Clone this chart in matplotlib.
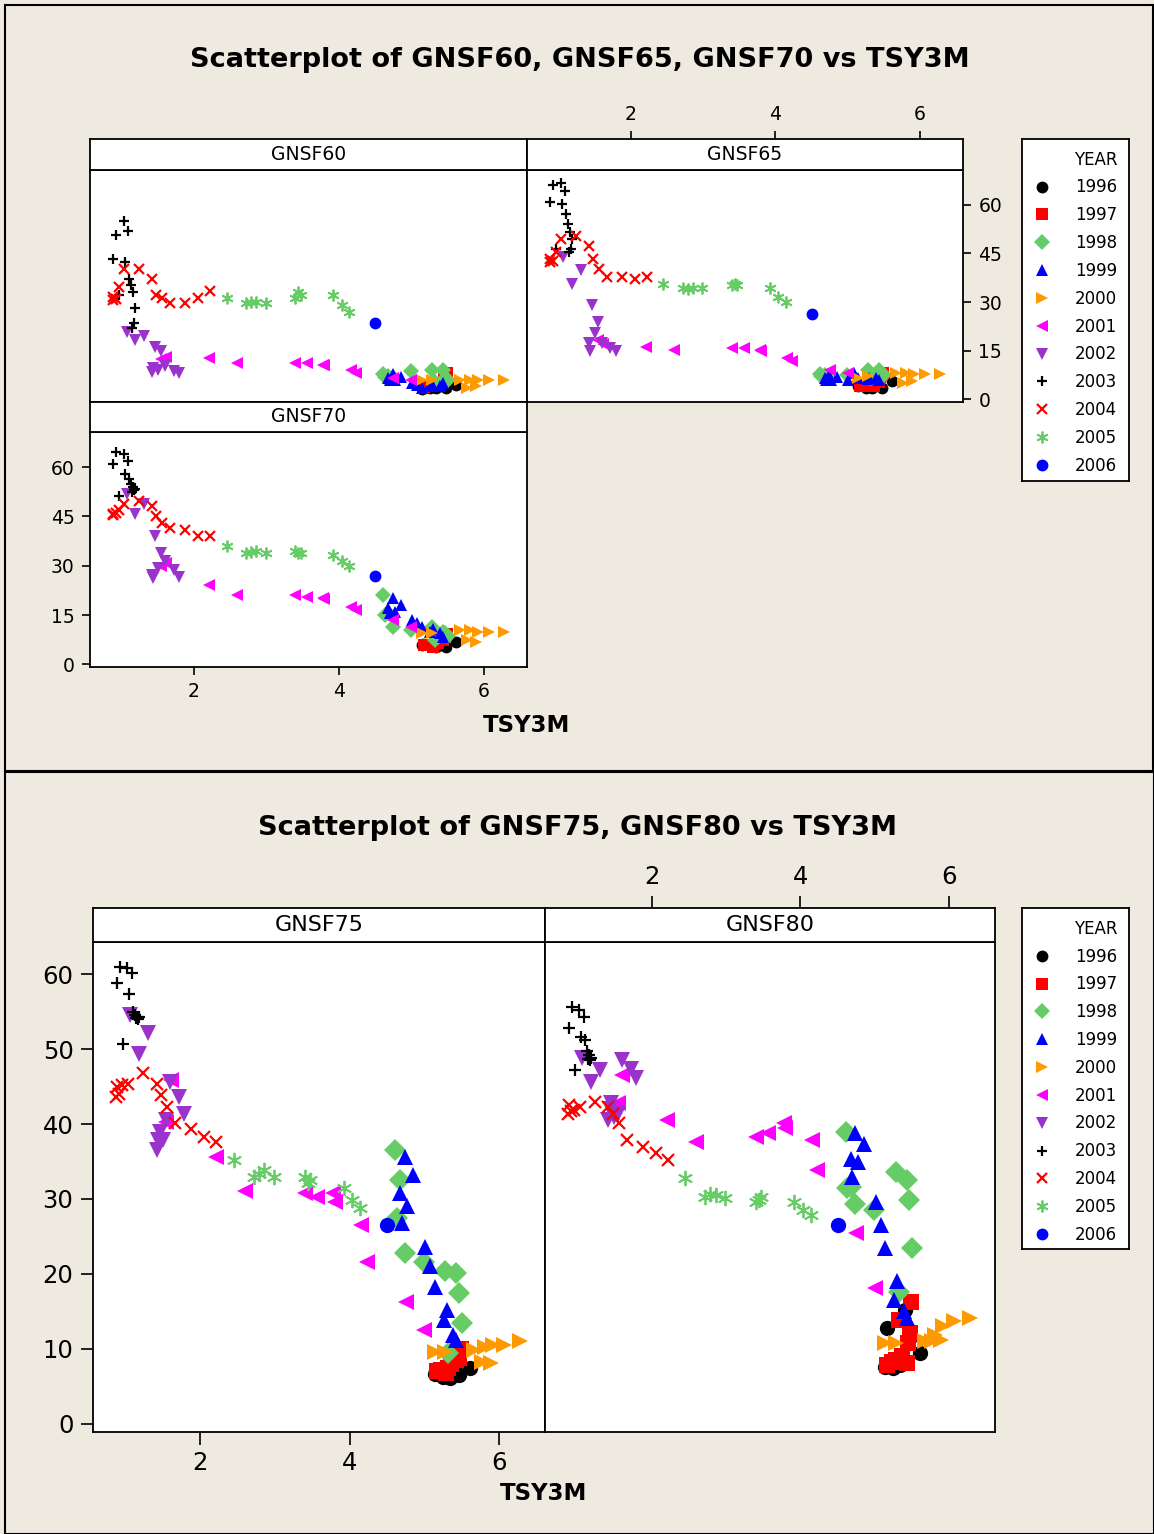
import matplotlib
matplotlib.use("Agg")
import matplotlib.pyplot as plt
from matplotlib.patches import Rectangle

# ---- data: TSY3M (x) and the five GNSF series, per YEAR group ----
years = [1996, 1997, 1998, 1999, 2000, 2001, 2002, 2003, 2004, 2005, 2006]

TSY3M = {
    1996: [5.14, 5.16, 5.25, 5.34, 5.41, 5.47, 5.61],
    1997: [5.17, 5.23, 5.29, 5.32, 5.36, 5.43, 5.45, 5.47, 5.49],
    1998: [4.61, 4.68, 4.63, 4.74, 4.99, 5.28, 5.43, 5.46, 5.50, 5.32],
    1999: [4.74, 4.85, 4.68, 4.77, 4.70, 5.01, 5.08, 5.14, 5.30, 5.26, 5.39, 5.43],
    2000: [5.14, 5.28, 5.67, 5.81, 5.92, 6.07, 6.28, 5.77, 5.89],
    2001: [5.00, 4.75, 4.23, 4.16, 3.80, 3.78, 3.56, 3.40, 2.60, 2.21, 1.55, 1.61],
    2002: [1.07, 1.19, 1.31, 1.46, 1.55, 1.60, 1.72, 1.79, 1.50, 1.42, 1.44],
    2003: [0.93, 1.03, 1.09, 0.89, 1.05, 1.11, 1.13, 1.16, 1.19, 1.17, 1.15, 0.97],
    2004: [0.88, 0.89, 0.92, 0.96, 1.04, 1.24, 1.42, 1.48, 1.56, 1.67, 1.88, 2.06, 2.22],
    2005: [2.45, 2.72, 2.79, 2.86, 2.99, 3.40, 3.44, 3.47, 3.92, 4.04, 4.14],
    2006: [4.50],
}

GNSF60 = {
    1996: [3.2, 3.5, 3.4, 3.4, 4.0, 3.6, 4.5],
    1997: [3.8, 4.0, 4.2, 4.5, 4.3, 5.0, 6.5, 7.0, 8.0],
    1998: [7.7, 7.2, 7.0, 6.8, 8.7, 9.2, 9.2, 6.6, 6.0, 5.5],
    1999: [7.7, 7.0, 6.5, 6.1, 6.0, 5.0, 4.5, 3.6, 4.1, 4.3, 4.1, 5.1],
    2000: [6.1, 6.1, 6.1, 6.1, 6.1, 6.1, 6.1, 3.6, 4.1],
    2001: [6.1, 6.6, 8.2, 9.2, 10.5, 10.7, 11.2, 11.2, 11.2, 12.8, 12.5, 13.0],
    2002: [20.9, 18.4, 19.4, 16.3, 14.8, 10.2, 8.7, 8.2, 9.2, 8.3, 9.7],
    2003: [50.8, 55.1, 52.0, 43.4, 42.3, 37.2, 35.2, 33.2, 28.1, 23.5, 21.9, 32.1],
    2004: [30.5, 31.5, 31.0, 34.7, 40.3, 40.3, 37.2, 32.1, 31.1, 29.8, 29.8, 31.1, 33.5],
    2005: [31.1, 29.6, 30.1, 30.1, 29.6, 31.1, 33.2, 32.1, 32.1, 29.1, 27.0],
    2006: [23.4],
}

GNSF65 = {
    1996: [4.1, 4.3, 3.6, 3.6, 4.5, 3.6, 5.6],
    1997: [4.0, 4.2, 4.1, 4.8, 4.1, 5.5, 7.0, 7.5, 8.2],
    1998: [7.7, 7.5, 7.2, 7.0, 7.5, 9.2, 9.2, 8.0, 7.5, 6.5],
    1999: [7.5, 6.8, 6.5, 6.1, 6.0, 6.0, 8.2, 6.5, 6.6, 6.3, 6.6, 6.1],
    2000: [6.6, 7.1, 8.2, 8.2, 7.7, 7.7, 7.7, 5.1, 5.6],
    2001: [8.2, 9.2, 11.7, 12.8, 15.0, 15.3, 15.8, 15.8, 15.3, 16.3, 18.4, 17.0],
    2002: [43.9, 35.7, 39.8, 29.1, 24.0, 17.4, 15.8, 14.8, 20.4, 17.4, 14.8],
    2003: [66.0, 66.8, 64.3, 60.7, 60.2, 57.1, 54.1, 51.5, 49.5, 46.4, 45.4, 46.4],
    2004: [42.3, 43.4, 42.8, 45.4, 49.5, 50.5, 47.4, 43.4, 40.3, 37.7, 37.7, 37.2, 37.7],
    2005: [35.7, 34.2, 34.0, 34.2, 34.2, 35.2, 35.7, 35.2, 34.2, 31.6, 30.1],
    2006: [26.3],
}

GNSF70 = {
    1996: [5.8, 6.2, 5.5, 5.3, 6.0, 5.4, 6.8],
    1997: [5.8, 6.0, 5.3, 6.3, 6.5, 7.5, 8.9, 8.5, 9.2],
    1998: [21.1, 15.5, 15.0, 11.4, 10.4, 11.4, 9.9, 9.5, 8.5, 7.3],
    1999: [20.1, 18.1, 17.0, 16.0, 15.5, 13.5, 12.5, 11.5, 10.9, 10.0, 9.4, 8.4],
    2000: [9.4, 9.4, 10.4, 10.4, 9.9, 9.9, 9.9, 7.3, 6.8],
    2001: [11.4, 13.5, 16.5, 17.5, 19.8, 20.1, 20.6, 21.1, 21.1, 24.2, 30.0, 30.8],
    2002: [51.7, 45.6, 48.7, 39.0, 33.9, 31.3, 28.8, 26.7, 29.3, 27.2, 26.2],
    2003: [64.5, 64.0, 61.9, 60.9, 58.0, 56.3, 54.8, 54.0, 53.3, 53.0, 52.5, 51.2],
    2004: [45.3, 45.6, 46.1, 47.0, 48.7, 49.7, 48.1, 45.1, 43.1, 41.5, 41.0, 39.0, 39.0],
    2005: [35.9, 33.9, 34.2, 34.4, 33.9, 34.4, 34.0, 33.9, 33.4, 31.3, 29.8],
    2006: [27.0],
}

GNSF75 = {
    1996: [6.6, 7.2, 6.3, 6.1, 7.0, 6.5, 7.5],
    1997: [7.0, 7.2, 6.8, 7.5, 8.0, 8.5, 9.5, 8.8, 10.0],
    1998: [36.5, 32.5, 27.4, 22.8, 21.6, 20.4, 20.1, 17.4, 13.4, 9.4],
    1999: [35.6, 33.2, 30.8, 29.0, 26.8, 23.6, 21.0, 18.3, 15.2, 13.9, 11.9, 11.2],
    2000: [9.6, 9.6, 9.9, 10.3, 10.5, 10.5, 11.0, 8.3, 8.1],
    2001: [12.5, 16.3, 21.6, 26.5, 29.6, 30.8, 30.3, 30.8, 31.0, 35.6, 40.3, 45.9],
    2002: [54.5, 49.4, 52.1, 39.0, 40.5, 45.6, 43.6, 41.4, 37.9, 36.5, 37.9],
    2003: [61.0, 60.8, 60.1, 58.8, 57.4, 55.0, 54.5, 54.3, 54.3, 54.0, 54.2, 50.7],
    2004: [43.6, 45.0, 44.0, 45.2, 45.4, 46.8, 45.4, 43.9, 42.3, 40.1, 39.4, 38.3, 37.6],
    2005: [35.2, 33.0, 33.4, 33.9, 33.0, 33.0, 32.1, 32.5, 31.4, 29.9, 28.8],
    2006: [26.5],
}

GNSF80 = {
    1996: [7.6, 12.8, 7.4, 7.8, 15.2, 11.6, 9.4],
    1997: [7.9, 8.2, 8.5, 13.9, 9.0, 8.1, 10.8, 12.1, 16.3],
    1998: [39.0, 31.6, 31.5, 29.3, 28.5, 33.6, 32.5, 29.9, 23.5, 17.6],
    1999: [38.8, 37.4, 35.4, 35.0, 33.0, 29.6, 26.5, 23.4, 19.0, 16.5, 15.0, 14.1],
    2000: [10.8, 10.8, 11.0, 11.9, 13.0, 13.7, 14.1, 11.0, 11.2],
    2001: [18.1, 25.4, 33.9, 37.9, 39.5, 40.1, 38.8, 38.3, 37.6, 40.5, 42.8, 46.5],
    2002: [48.8, 45.6, 47.2, 42.8, 41.4, 48.5, 47.4, 46.1, 41.0, 40.5, 42.0],
    2003: [55.6, 55.2, 54.3, 52.8, 51.6, 51.2, 49.8, 49.2, 48.8, 48.5, 48.7, 47.2],
    2004: [41.4, 42.5, 41.8, 41.9, 42.3, 43.0, 42.3, 41.4, 40.1, 37.9, 37.0, 36.1, 35.2],
    2005: [32.8, 30.3, 30.6, 30.5, 30.1, 29.6, 29.9, 30.2, 29.6, 28.5, 27.9],
    2006: [26.5],
}

# Minitab default group symbols
STYLE = {
    1996: dict(marker="o", color="#000000"),
    1997: dict(marker="s", color="#FF0000"),
    1998: dict(marker="D", color="#66CC66"),
    1999: dict(marker="^", color="#0000FF"),
    2000: dict(marker=">", color="#FF9900"),
    2001: dict(marker="<", color="#FF00FF"),
    2002: dict(marker="v", color="#9933CC"),
    2003: dict(marker="+", color="#000000"),
    2004: dict(marker="x", color="#FF0000"),
    2005: dict(marker=(6, 2, 0), color="#66CC66"),
    2006: dict(marker="o", color="#0000FF"),
}
LINE_MARKERS = {2003, 2004, 2005}

BG = "#EEEAE0"
W, H = 1154, 1534


def box(x0, y0, x1, y1):
    return [x0 / W, 1 - y1 / H, (x1 - x0) / W, (y1 - y0) / H]


def scatter(ax, series, ms):
    lines = []
    for yr in years:
        st = STYLE[yr]
        kw = dict(ls="none", marker=st["marker"], color=st["color"], label=str(yr))
        if yr in LINE_MARKERS:
            kw.update(ms=ms * (1.0 if yr == 2005 else 0.85), mew=1.3 if yr == 2005 else 1.6)
        else:
            kw.update(ms=ms, mew=0)
        lines += ax.plot(TSY3M[yr], series[yr], **kw)
    return lines


def panel(rect, srect, name, series, xlim, ylim, ms, fs):
    ax = fig.add_axes(box(*rect))
    ax.set_facecolor("white")
    h = scatter(ax, series, ms)
    ax.set_xlim(*xlim)
    ax.set_ylim(*ylim)
    ax.tick_params(length=0, labelleft=False, labelbottom=False)
    st = fig.add_axes(box(*srect), sharex=ax)
    st.set_facecolor("white")
    st.set_yticks([])
    st.tick_params(axis="x", length=0, labelbottom=False)
    st.text(0.5, 0.5, name, transform=st.transAxes, ha="center", va="center",
            fontsize=fs)
    for a in (ax, st):
        for s in a.spines.values():
            s.set_linewidth(1.3)
    return ax, st, h


def legend_box(rect, handles, fs, scale):
    lg = fig.add_axes(box(*rect))
    lg.set_xticks([]); lg.set_yticks([])
    for s in lg.spines.values():
        s.set_linewidth(1.3)
    lg.legend(handles, [str(y) for y in years], loc="upper right", frameon=False,
              title="YEAR", alignment="right", fontsize=fs, title_fontsize=fs,
              handlelength=1.0, handletextpad=1.5, labelspacing=0.59,
              borderaxespad=0.3, markerscale=scale)


fig = plt.figure(figsize=(W / 100, H / 100), dpi=100, facecolor=BG)
fig.patches.append(Rectangle((5 / W, 1 - 771 / H), 1148 / W, 766 / H, transform=fig.transFigure,
                             fill=False, ec="black", lw=1.5))
fig.patches.append(Rectangle((5 / W, 0), 1149 / W, 1 - 772 / H, transform=fig.transFigure,
                             fill=False, ec="black", lw=1.5))

# ---------------- top graph ----------------
TOP_X = (0.566, 6.593)
TOP_Y = (-0.8, 70.7)
tick_top = dict(direction="out", length=6, width=1.2, labelsize=13.5, pad=5)

ax60, s60, handles = panel((90, 170, 527, 402), (90, 139, 527, 170), "GNSF60", GNSF60,
                           TOP_X, TOP_Y, 8.5, 13.5)
ax65, s65, _ = panel((527, 170, 963, 402), (527, 139, 963, 170), "GNSF65", GNSF65,
                     TOP_X, TOP_Y, 8.5, 13.5)
ax70, s70, _ = panel((90, 432, 527, 667), (90, 402, 527, 432), "GNSF70", GNSF70,
                     TOP_X, TOP_Y, 8.5, 13.5)

ax70.set_xticks([2, 4, 6]); ax70.set_yticks([0, 15, 30, 45, 60])
ax70.tick_params(**tick_top, labelleft=True, labelbottom=True)
ax65.set_yticks([0, 15, 30, 45, 60])
ax65.yaxis.tick_right()
ax65.tick_params(axis="y", **tick_top, labelright=True, labelleft=False)
s65.set_xticks([2, 4, 6])
s65.xaxis.tick_top()
s65.tick_params(axis="x", **tick_top, labeltop=True)

fig.text(580 / W, 1 - 60 / H, "Scatterplot of GNSF60, GNSF65, GNSF70 vs TSY3M",
         ha="center", va="center", fontsize=19.5, fontweight="bold")
fig.text(527 / W, 1 - 725 / H, "TSY3M", ha="center", va="center",
         fontsize=16.5, fontweight="bold")
legend_box((1022, 139, 1129, 481), handles, 12, 1.0)

# ---------------- bottom graph ----------------
BOT_X = (0.569, 6.615)
BOT_Y = (-1.07, 64.27)
tick_bot = dict(direction="out", length=9, width=1.2, labelsize=17.5, pad=5)

ax75, s75, handles2 = panel((93, 942, 545, 1432), (93, 908, 545, 942), "GNSF75", GNSF75,
                            BOT_X, BOT_Y, 11, 16)
ax80, s80, _ = panel((545, 942, 995, 1432), (545, 908, 995, 942), "GNSF80", GNSF80,
                     BOT_X, BOT_Y, 11, 16)
ax75.set_xticks([2, 4, 6]); ax75.set_yticks([0, 10, 20, 30, 40, 50, 60])
ax75.tick_params(**tick_bot, labelleft=True, labelbottom=True)
s80.set_xticks([2, 4, 6])
s80.xaxis.tick_top()
s80.tick_params(axis="x", **tick_bot, labeltop=True)

fig.text(578 / W, 1 - 828 / H, "Scatterplot of GNSF75, GNSF80 vs TSY3M",
         ha="center", va="center", fontsize=19.5, fontweight="bold")
fig.text(544 / W, 1 - 1493 / H, "TSY3M", ha="center", va="center",
         fontsize=16.5, fontweight="bold")
legend_box((1022, 908, 1129, 1249), handles2, 12, 8.5 / 11)

fig.savefig("out.png", dpi=100, facecolor=BG)
